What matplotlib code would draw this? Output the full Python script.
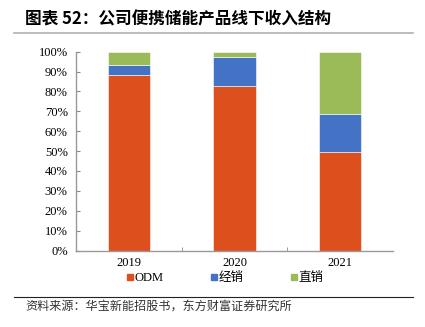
import matplotlib
matplotlib.use('Agg')
import matplotlib.pyplot as plt
from matplotlib.ticker import PercentFormatter
from matplotlib.lines import Line2D

# data
years = ['2019', '2020', '2021']
odm = [88.2, 82.9, 49.6]
distrib = [5.2, 14.6, 19.1]
direct = [6.6, 2.5, 31.3]
series_names = ['ODM', '经销', '直销']
colors = ['#DE4F1E', '#4472C4', '#9BBB59']

title = '图表 52：公司便携储能产品线下收入结构'
source = '资料来源：华宝新能招股书，东方财富证券研究所'

W, H = 425, 327
fig = plt.figure(figsize=(W / 100, H / 100), dpi=100)
cjk = ['Noto Sans CJK SC', 'DejaVu Sans']
mixed = ['Liberation Serif', 'Noto Sans CJK SC']

# axes placed in pixel units
left, right, top, bottom = 76, 393, 51.7, 250.5
ax = fig.add_axes([left / W, 1 - bottom / H, (right - left) / W, (bottom - top) / H])

x = range(len(years))
base2 = [a + b for a, b in zip(odm, distrib)]
ax.bar(x, odm, width=0.4, color=colors[0], edgecolor='white', linewidth=0.4)
ax.bar(x, distrib, bottom=odm, width=0.4, color=colors[1], edgecolor='white', linewidth=0.4)
ax.bar(x, direct, bottom=base2, width=0.4, color=colors[2], edgecolor='white', linewidth=0.4)

ax.set_xlim(-0.5, 2.5)
ax.set_ylim(0, 100)
ax.set_yticks(range(0, 101, 10))
ax.yaxis.set_major_formatter(PercentFormatter(decimals=0))
ax.set_xticks(list(x))
ax.set_xticklabels(years)
ax.set_xticks([0.5, 1.5], minor=True)
ax.tick_params(axis='x', which='major', length=0, pad=5)
ax.tick_params(axis='x', which='minor', direction='in', length=3, color='#888888')
ax.tick_params(axis='y', direction='in', length=3, color='#888888', pad=6)
for lab in ax.get_xticklabels() + ax.get_yticklabels():
    lab.set_family('Liberation Serif')
    lab.set_fontsize(9)
for s in ['top', 'right']:
    ax.spines[s].set_visible(False)
for s in ['left', 'bottom']:
    ax.spines[s].set_color('#999999')
    ax.spines[s].set_linewidth(1)

handles = [Line2D([], [], marker='s', linestyle='none', markersize=3.8,
                  markerfacecolor=c, markeredgecolor=c) for c in colors]
fig.legend(handles, series_names, loc='center left', bbox_to_anchor=(122 / W, 1 - 278 / H),
           ncol=3, frameon=False, handletextpad=-0.2, columnspacing=3.4,
           handlelength=1.2, borderaxespad=0, borderpad=0,
           prop={'family': mixed, 'size': 9})

# title, rules and source
fig.text(25 / W, 1 - 19 / H, title, family=cjk, fontsize=12, fontweight='bold',
         va='center', ha='left')
fig.add_artist(Line2D([14 / W, 413 / W], [1 - 33 / H] * 2, color='#b0b0b0', linewidth=1.2))
fig.add_artist(Line2D([14 / W, 413 / W], [1 - 297 / H] * 2, color='#222222', linewidth=0.8))
fig.text(25 / W, 1 - 306 / H, source, family=cjk, fontsize=8.7, va='center', ha='left',
         color='#333333')

fig.savefig('out.png', dpi=100)
